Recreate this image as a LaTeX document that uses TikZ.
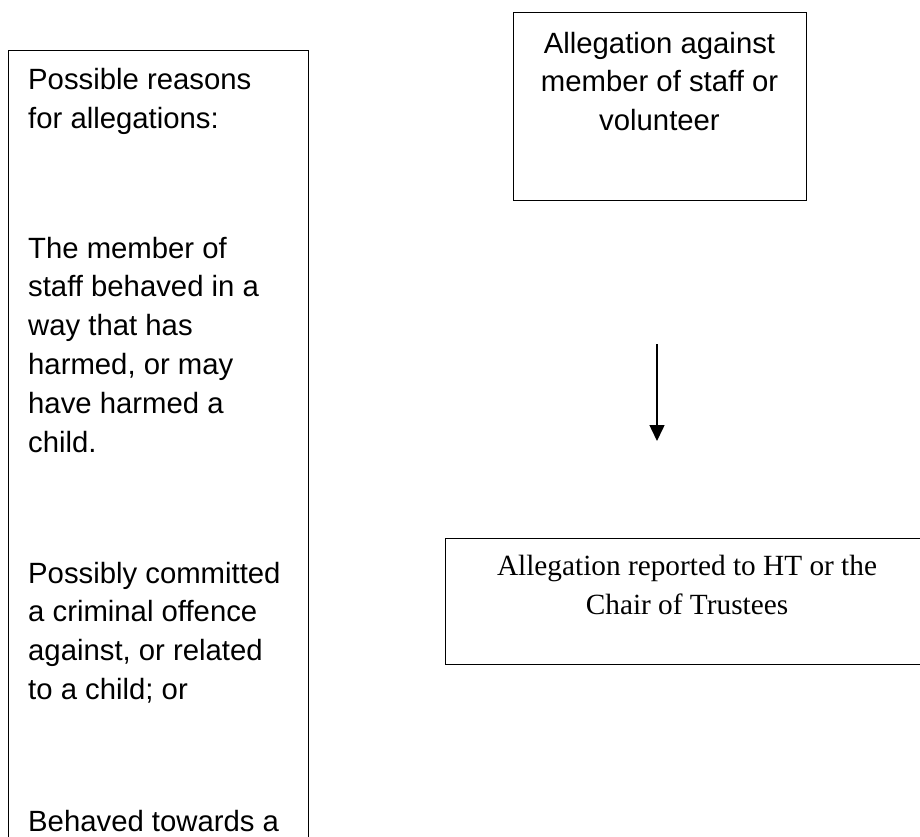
\documentclass[tikz,border=0pt]{standalone}
\usepackage{fontspec}
\setmainfont{Liberation Sans}
\newfontfamily\timesfont{Liberation Serif}
\usetikzlibrary{arrows.meta}
\begin{document}
\begin{tikzpicture}[x=1pt,y=-1pt,
  box/.style={draw, line width=1.3pt, inner sep=0pt, rectangle},
  sanstext/.style={inner sep=0pt, font=\fontsize{29.3pt}{38.8pt}\selectfont},
  seriftext/.style={inner sep=0pt, font=\timesfont\fontsize{29.3pt}{39pt}\selectfont},
  flowarrow/.style={-{Triangle[width=15pt,length=16pt]}, line width=1.5pt}]
\useasboundingbox (0,0) rectangle (920,837);
\clip (0,0) rectangle (920,837);

% left box (runs past the bottom edge)
\node[box, anchor=north west, minimum width=300pt, minimum height=850pt] (reasons) at (8,50) {};
\node[sanstext, align=left, anchor=north west] (reasonsText) at (28,61.84)
  {\strut Possible reasons\\
   for allegations:\\[91.2pt]
   The member of\\
   staff behaved in a\\
   way that has\\
   harmed, or may\\
   have harmed a\\
   child.\\[92.2pt]
   Possibly committed\\
   a criminal offence\\
   against, or related\\
   to a child; or\\[93pt]
   Behaved towards a};

% top right box
\node[box, anchor=north west, minimum width=293pt, minimum height=188pt] (allegation) at (513,12) {};
\node[sanstext, align=center, anchor=north] (allegationText) at (659.5,25.84)
  {\strut Allegation against\\ member of staff or\\ volunteer};

% bottom right box (runs past the right edge)
\node[box, anchor=north west, minimum width=484pt, minimum height=126pt] (reported) at (445,538) {};
\node[seriftext, align=center, anchor=north] (reportedText) at (687,547.7)
  {\strut Allegation reported to HT or the\\ Chair of Trustees};

% arrow
\coordinate (arrowStart) at (657,344);
\coordinate (arrowEnd) at (657,441);
\draw[flowarrow] (arrowStart) -- (arrowEnd);
\end{tikzpicture}
\end{document}
